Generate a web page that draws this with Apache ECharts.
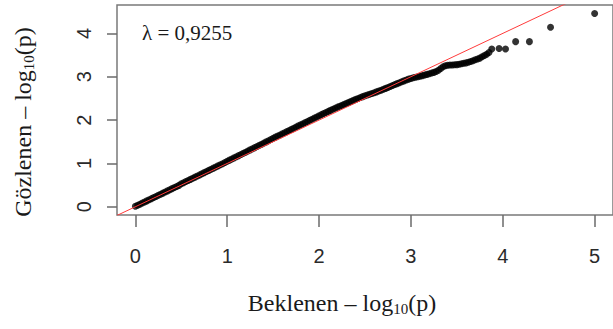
<!DOCTYPE html>
<html>
<head>
<meta charset="utf-8">
<title>QQ plot</title>
<script src="https://cdn.jsdelivr.net/npm/echarts@6/dist/echarts.min.js"></script>
<style>
  html, body { margin: 0; padding: 0; background: #ffffff; }
  #chart { width: 613px; height: 329px; }
</style>
</head>
<body>
<div id="chart"></div>
<script>
// Expected −log10(p) (x) against observed −log10(p) (y)
const expectedP = [
  0.000, 0.025, 0.050, 0.075, 0.100, 0.125, 0.150, 0.175, 0.200, 0.225,
  0.250, 0.275, 0.300, 0.325, 0.350, 0.375, 0.400, 0.425, 0.450, 0.475,
  0.500, 0.525, 0.550, 0.575, 0.600, 0.625, 0.650, 0.675, 0.700, 0.725,
  0.750, 0.775, 0.800, 0.825, 0.850, 0.875, 0.900, 0.925, 0.950, 0.975,
  1.000, 1.025, 1.050, 1.075, 1.100, 1.125, 1.150, 1.175, 1.200, 1.225,
  1.250, 1.275, 1.300, 1.325, 1.350, 1.375, 1.400, 1.425, 1.450, 1.475,
  1.500, 1.525, 1.550, 1.575, 1.600, 1.625, 1.650, 1.675, 1.700, 1.725,
  1.750, 1.775, 1.800, 1.825, 1.850, 1.875, 1.900, 1.925, 1.950, 1.975,
  2.000, 2.025, 2.050, 2.075, 2.100, 2.125, 2.150, 2.175, 2.200, 2.225,
  2.250, 2.275, 2.300, 2.325, 2.350, 2.375, 2.400, 2.425, 2.450, 2.475,
  2.500, 2.525, 2.550, 2.575, 2.600, 2.625, 2.650, 2.675, 2.700, 2.725,
  2.750, 2.775, 2.800, 2.825, 2.850, 2.875, 2.900, 2.925, 2.950, 2.975,
  3.000, 3.025, 3.050, 3.075, 3.100, 3.125, 3.150, 3.175, 3.200, 3.225,
  3.250, 3.275, 3.300, 3.325, 3.350, 3.375, 3.400, 3.425, 3.450, 3.475,
  3.500, 3.525, 3.550, 3.575, 3.600, 3.625, 3.650, 3.675, 3.700, 3.725,
  3.750, 3.775, 3.800, 3.825, 3.850,
  3.880, 3.960, 4.030, 4.140, 4.290, 4.520, 5.000
];
const observedP = [
  0.010, 0.035, 0.060, 0.086, 0.111, 0.136, 0.161, 0.187, 0.212, 0.238,
  0.264, 0.289, 0.315, 0.340, 0.366, 0.392, 0.418, 0.443, 0.469, 0.494,
  0.530, 0.555, 0.581, 0.606, 0.632, 0.658, 0.684, 0.709, 0.735, 0.761,
  0.788, 0.813, 0.839, 0.865, 0.891, 0.917, 0.943, 0.968, 0.994, 1.020,
  1.050, 1.076, 1.102, 1.128, 1.154, 1.180, 1.207, 1.233, 1.259, 1.286,
  1.312, 1.338, 1.365, 1.391, 1.418, 1.444, 1.471, 1.497, 1.524, 1.551,
  1.580, 1.606, 1.631, 1.657, 1.683, 1.708, 1.734, 1.760, 1.786, 1.812,
  1.840, 1.866, 1.892, 1.917, 1.943, 1.969, 1.995, 2.021, 2.047, 2.073,
  2.100, 2.125, 2.150, 2.175, 2.200, 2.224, 2.249, 2.273, 2.298, 2.317,
  2.340, 2.363, 2.386, 2.409, 2.432, 2.455, 2.477, 2.499, 2.520, 2.541,
  2.560, 2.578, 2.596, 2.614, 2.632, 2.651, 2.670, 2.690, 2.710, 2.731,
  2.753, 2.775, 2.797, 2.819, 2.841, 2.863, 2.884, 2.905, 2.925, 2.945,
  2.960, 2.975, 2.990, 3.000, 3.010, 3.025, 3.040, 3.055, 3.070, 3.085,
  3.100, 3.120, 3.150, 3.190, 3.230, 3.255, 3.265, 3.270, 3.270, 3.275,
  3.280, 3.290, 3.300, 3.310, 3.320, 3.335, 3.350, 3.370, 3.390, 3.410,
  3.430, 3.460, 3.490, 3.520, 3.560,
  3.640, 3.650, 3.640, 3.810, 3.810, 4.140, 4.460
];
// Reference line y = x, spanning the axis range
const diagonalX = [-0.2, 5.2];
const xTicks = [0, 1, 2, 3, 4, 5];
const yTicks = [0, 1, 2, 3, 4];
const lambdaText = 'λ = 0,9255';

const points = expectedP.map((x, i) => [x, observedP[i]]);
const diagonal = diagonalX.map(v => [v, v]);

const chart = echarts.init(document.getElementById('chart'), null, { renderer: 'svg' });

const tickStyle = { color: '#6a6a6a', width: 1.5 };
const labelFont = {
  fontFamily: 'Liberation Sans, Arial, sans-serif',
  fontSize: 20,
  color: '#2a2a2a'
};
const serif = 'Liberation Serif, Times New Roman, serif';
const subStyle = {
  fontFamily: serif, fontSize: 15, fill: '#1a1a1a',
  padding: [11, 0, 0, 0], verticalAlign: 'bottom'
};

chart.setOption({
  animation: false,
  backgroundColor: '#ffffff',
  grid: {
    left: 117,
    top: 5,
    right: -6,
    bottom: 114,
    show: true,
    borderColor: '#7a7a7a',
    borderWidth: 1.5,
    containLabel: false
  },
  xAxis: {
    type: 'value',
    min: -0.2,
    max: 5.2,
    axisLine: { show: false, onZero: false },
    splitLine: { show: false },
    axisTick: {
      show: true,
      length: 12,
      customValues: xTicks,
      lineStyle: tickStyle
    },
    axisLabel: Object.assign({
      customValues: xTicks,
      margin: 31
    }, labelFont)
  },
  yAxis: {
    type: 'value',
    min: -0.19,
    max: 4.655,
    axisLine: { show: false, onZero: false },
    splitLine: { show: false },
    axisTick: {
      show: true,
      length: 10,
      customValues: yTicks,
      lineStyle: tickStyle
    },
    axisLabel: Object.assign({
      customValues: yTicks,
      rotate: 90,
      margin: 23
    }, labelFont)
  },
  series: [
    {
      type: 'scatter',
      data: points,
      symbol: 'circle',
      symbolSize: 7,
      itemStyle: { color: '#000000' },
      z: 2
    },
    {
      type: 'line',
      data: diagonal,
      symbol: 'none',
      lineStyle: { color: '#ff3b3b', width: 1 },
      clip: true,
      z: 3
    }
  ],
  graphic: [
    {
      type: 'text',
      x: 142,
      y: 33,
      style: {
        text: lambdaText,
        font: '21px ' + serif,
        fill: '#1a1a1a',
        align: 'left',
        verticalAlign: 'middle'
      }
    },
    {
      type: 'text',
      x: 342,
      y: 303,
      style: {
        text: 'Beklenen – log{sub|10}(p)',
        fontFamily: serif,
        fontSize: 24,
        fill: '#1a1a1a',
        align: 'center',
        verticalAlign: 'middle',
        rich: { sub: subStyle }
      }
    },
    {
      type: 'text',
      x: 23,
      y: 122,
      rotation: Math.PI / 2,
      style: {
        text: 'Gözlenen – log{sub|10}(p)',
        fontFamily: serif,
        fontSize: 24,
        fill: '#1a1a1a',
        align: 'center',
        verticalAlign: 'middle',
        rich: { sub: subStyle }
      }
    }
  ]
});
</script>
</body>
</html>
